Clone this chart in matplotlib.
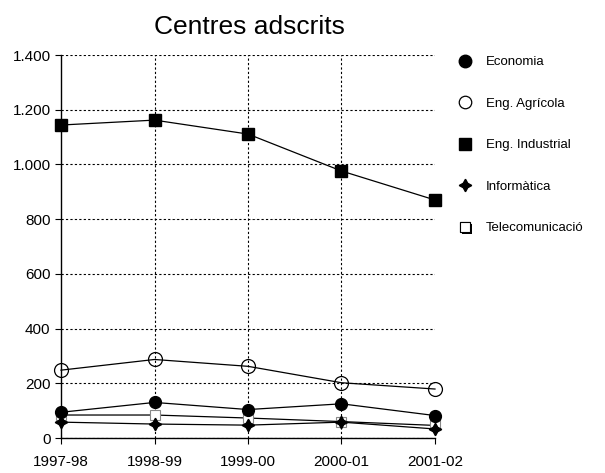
import matplotlib.pyplot as plt
import matplotlib.patheffects as pe

plt.rcParams['font.family'] = ['Liberation Sans', 'DejaVu Sans']

# Students per course at the affiliated centres
courses = ['1997-98', '1998-99', '1999-00', '2000-01', '2001-02']
economia = [94, 130, 104, 125, 82]
eng_agricola = [248, 287, 262, 202, 179]
eng_industrial = [1144, 1162, 1111, 976, 870]
informatica = [58, 51, 47, 58, 33]
telecomunicacio = [84, 84, 73, 60, 46]

x = range(len(courses))

fig = plt.figure(figsize=(6.05, 4.73), dpi=100)
ax = fig.add_axes([61 / 605, 1 - 438 / 473, (435 - 61) / 605, (438 - 55) / 473])

shadow = [pe.withSimplePatchShadow(offset=(1.5, -1.5), shadow_rgbFace='black', alpha=1.0), pe.Normal()]
line_kw = dict(color='black', lw=0.9, clip_on=False)

ax.plot(x, economia, marker='o', ms=8.5, mfc='black', mec='black', label='Economia', zorder=5, **line_kw)
ax.plot(x, eng_agricola, marker='o', ms=10, mfc='none', mec='black', mew=0.9,
        label='Eng. Agrícola', zorder=4, **line_kw)
ax.plot(x, eng_industrial, marker='s', ms=9, mfc='black', mec='black', label='Eng. Industrial', zorder=4, **line_kw)
ax.plot(x, informatica, marker=(4, 1, 0), ms=9, mfc='black', mec='black',
        label='Informàtica', zorder=4, **line_kw)
ax.plot(x, telecomunicacio, marker='s', ms=7.5, mfc='white', mec='#888888', mew=0.8,
        label='Telecomunicació', zorder=3, **line_kw)

ax.set_xlim(0, 4)
ax.set_ylim(0, 1400)
ax.set_xticks(list(x))
ax.set_xticklabels(courses)
ax.set_yticks(range(0, 1401, 200))
ax.set_yticklabels(['0', '200', '400', '600', '800', '1.000', '1.200', '1.400'])
ax.tick_params(axis='both', labelsize=11, length=4, width=0.8, color='black', direction='out')
ax.tick_params(axis='x', pad=8)

ax.grid(True, color='black', linestyle=(0, (2, 2)), linewidth=0.8)
ax.xaxis.get_gridlines()[-1].set_visible(False)
ax.xaxis.get_gridlines()[0].set_visible(False)
ax.set_axisbelow(True)
for side in ('top', 'right'):
    ax.spines[side].set_visible(False)
for side in ('left', 'bottom'):
    ax.spines[side].set_linewidth(1.0)

fig.text(249 / 605, 1 - 27 / 473, 'Centres adscrits', ha='center', va='center', fontsize=19)

leg = ax.legend(loc='upper left', bbox_to_anchor=(457 / 605, 1 - 56 / 473), bbox_transform=fig.transFigure,
                frameon=False, fontsize=9.5, handlelength=1.2, handletextpad=1.0, labelspacing=2.22,
                borderpad=0, borderaxespad=0)
for h in leg.legend_handles:
    h.set_linestyle('none')
hl = leg.legend_handles
hl[0].set_markersize(9)
hl[1].set_markersize(9)
hl[4].set_markeredgecolor('black')
hl[4].set_path_effects(shadow)

fig.savefig('out.png', dpi=100)
